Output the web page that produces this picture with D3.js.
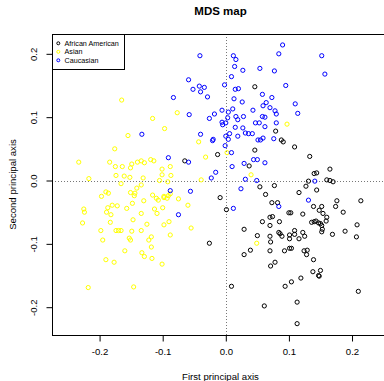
<!DOCTYPE html>
<html><head><meta charset="utf-8">
<script src="https://cdn.jsdelivr.net/npm/d3@7"></script>
<style>body{margin:0;background:#fff}svg{display:block}text{font-family:"Liberation Sans",Arial,sans-serif}</style>
</head><body><div id="chart"></div>
<script>
const groups = ["African American", "Asian", "Caucasian"];
const colors = ["#000000", "#ffff00", "#0000ff"];
const xTicks = [-0.2, -0.1, 0.0, 0.1, 0.2];
const yTicks = [-0.2, -0.1, 0.0, 0.1, 0.2];
const xTickLabels = ["-0.2", "-0.1", "0.0", "0.1", "0.2"];
const yTickLabels = ["-0.2", "-0.1", "0.0", "0.1", "0.2"];

const africanAmerican = [
[0.046,0.148],[0.079,0.078],[0.088,0.064],[0.091,0.061],[0.109,0.053],[0.046,0.048],[-0.013,0.041],[-0.065,0.031],
[0.037,0.023],[0.133,0.038],[0.165,0.018],[0.140,0.011],[0.144,0.012],[0.131,-0.001],[0.160,0.001],[0.165,0.000],
[0.170,-0.002],[0.077,-0.008],[0.054,-0.010],[0.063,-0.022],[0.127,-0.009],[0.144,-0.015],[0.116,-0.019],[-0.009,-0.027],
[0.001,-0.046],[0.073,-0.035],[0.082,-0.035],[0.176,-0.032],[0.214,-0.032],[0.139,-0.041],[0.152,-0.041],[0.174,-0.041],
[0.148,-0.047],[0.154,-0.052],[0.186,-0.050],[0.100,-0.051],[0.103,-0.051],[0.122,-0.053],[0.070,-0.058],[0.074,-0.057],
[0.058,-0.065],[0.085,-0.065],[0.160,-0.058],[0.159,-0.064],[0.136,-0.066],[0.140,-0.065],[0.143,-0.064],[0.147,-0.067],
[0.150,-0.068],[0.152,-0.071],[0.153,-0.077],[0.152,-0.081],[0.208,-0.070],[0.189,-0.080],[0.207,-0.089],[0.169,-0.085],
[0.070,-0.071],[0.029,-0.077],[0.050,-0.087],[0.070,-0.088],[0.071,-0.097],[0.084,-0.082],[0.086,-0.084],[0.089,-0.088],
[0.101,-0.086],[0.101,-0.092],[0.109,-0.079],[0.109,-0.085],[0.116,-0.092],[0.122,-0.082],[0.125,-0.088],[-0.026,-0.099],
[0.039,-0.110],[0.029,-0.117],[0.070,-0.111],[0.093,-0.111],[0.101,-0.107],[0.104,-0.107],[0.124,-0.111],[0.129,-0.110],
[0.128,-0.117],[0.139,-0.125],[0.078,-0.129],[0.071,-0.135],[0.138,-0.144],[0.150,-0.142],[0.147,-0.150],[0.148,-0.151],
[0.119,-0.154],[0.104,-0.160],[0.094,-0.167],[0.009,-0.167],[0.210,-0.175],[0.113,-0.192],[0.061,-0.198],[0.113,-0.226]
];
const asian = [
[-0.165,0.127],[-0.116,0.098],[-0.077,0.107],[-0.097,0.082],[-0.155,0.071],[-0.176,0.050],[-0.233,0.029],[-0.184,0.029],
[-0.175,0.022],[-0.164,0.022],[-0.149,0.026],[-0.151,0.020],[-0.140,0.029],[-0.134,0.031],[-0.129,0.028],[-0.119,0.033],
[-0.114,0.031],[-0.101,0.018],[-0.088,0.022],[-0.217,0.003],[-0.174,0.008],[-0.161,0.007],[-0.152,0.005],[-0.131,0.004],
[-0.105,0.000],[-0.101,0.009],[-0.087,0.008],[-0.092,-0.002],[-0.166,-0.005],[-0.134,-0.007],[-0.141,-0.012],[-0.151,-0.019],
[-0.144,-0.020],[-0.145,-0.024],[-0.190,-0.018],[-0.186,-0.020],[-0.197,-0.025],[-0.116,-0.023],[-0.110,-0.028],[-0.107,-0.031],
[-0.098,-0.027],[-0.130,-0.032],[-0.148,-0.036],[-0.180,-0.039],[-0.172,-0.040],[-0.187,-0.043],[-0.157,-0.044],[-0.113,-0.045],
[-0.100,-0.043],[-0.225,-0.045],[-0.224,-0.050],[-0.189,-0.050],[-0.182,-0.054],[-0.134,-0.052],[-0.109,-0.052],[-0.227,-0.067],
[-0.183,-0.066],[-0.147,-0.062],[-0.125,-0.069],[-0.098,-0.070],[-0.198,-0.079],[-0.174,-0.079],[-0.170,-0.079],[-0.166,-0.079],
[-0.149,-0.080],[-0.134,-0.079],[-0.195,-0.094],[-0.153,-0.091],[-0.151,-0.094],[-0.122,-0.094],[-0.118,-0.089],[-0.118,-0.105],
[-0.160,-0.111],[-0.133,-0.114],[-0.129,-0.120],[-0.117,-0.123],[-0.190,-0.125],[-0.177,-0.129],[-0.101,-0.132],[-0.218,-0.169],
[-0.146,-0.168],[-0.043,0.061],[-0.032,0.037],[0.002,0.044],[-0.039,0.001],[0.040,0.009],[0.097,0.089],[-0.088,-0.021],
[-0.091,-0.024],[-0.093,-0.028],[-0.098,-0.025],[-0.075,-0.029],[-0.060,-0.039],[-0.090,-0.065],[-0.088,-0.086],[-0.055,-0.075],
[0.049,-0.099]
];
const caucasian = [
[0.090,0.214],[0.084,0.200],[0.152,0.197],[0.157,0.168],[-0.041,0.197],[0.012,0.197],[0.016,0.191],[0.014,0.180],
[0.027,0.174],[0.054,0.177],[0.077,0.173],[0.009,0.164],[-0.059,0.159],[-0.052,0.144],[-0.042,0.149],[-0.034,0.147],
[-0.040,0.140],[-0.002,0.151],[0.015,0.144],[0.020,0.145],[0.095,0.150],[-0.029,0.132],[-0.083,0.131],[0.013,0.129],
[0.026,0.124],[0.058,0.136],[0.073,0.131],[0.064,0.123],[0.059,0.118],[0.070,0.115],[0.078,0.110],[0.080,0.105],
[0.110,0.121],[0.114,0.106],[0.011,0.113],[0.004,0.108],[-0.006,0.111],[-0.018,0.105],[-0.026,0.098],[-0.058,0.104],
[0.003,0.099],[0.016,0.101],[0.028,0.101],[0.043,0.111],[0.058,0.101],[0.062,0.100],[0.047,0.091],[0.053,0.091],
[0.062,0.085],[0.080,0.091],[-0.006,0.092],[-0.005,0.088],[0.000,0.091],[0.015,0.084],[0.027,0.083],[0.031,0.075],
[0.036,0.074],[0.042,0.074],[0.019,0.070],[0.006,0.074],[0.000,0.070],[0.004,0.065],[-0.001,0.055],[-0.040,0.073],
[-0.020,0.065],[-0.021,0.063],[0.051,0.064],[0.055,0.064],[0.059,0.067],[0.076,0.066],[0.009,0.044],[-0.091,0.036],
[-0.059,0.029],[0.010,0.022],[0.029,0.027],[0.044,0.033],[0.050,0.033],[0.062,0.028],[-0.016,0.013],[-0.023,0.004],
[0.031,0.002],[0.049,0.000],[0.141,-0.001],[-0.133,0.073],[-0.088,-0.016],[-0.056,-0.017],[-0.075,-0.054],[0.024,-0.013],
[0.012,-0.044],[0.131,-0.031],[0.084,-0.041],[0.019,0.096]
];
const series = [africanAmerican, asian, caucasian];

(function () {
const W = 384, H = 381;
const pL = 52, pR = 389, pT = 34, pB = 335;
const x = d3.scaleLinear().domain([-0.2754, 0.2586]).range([pL, pR]);
const y = d3.scaleLinear().domain([-0.2439, 0.2313]).range([pB, pT]);
const FONT = "Liberation Sans, Arial, sans-serif";

const svg = d3.select("#chart").append("svg").attr("width", W).attr("height", H);

// reference lines
svg.append("line").attr("x1", Math.round(x(0)) + 0.5).attr("x2", Math.round(x(0)) + 0.5).attr("y1", pT).attr("y2", pB)
  .attr("stroke", "#777").attr("stroke-width", 1).attr("stroke-dasharray", "1,2");
svg.append("line").attr("x1", pL).attr("x2", pR).attr("y1", Math.round(y(0)) + 0.5).attr("y2", Math.round(y(0)) + 0.5)
  .attr("stroke", "#777").attr("stroke-width", 1).attr("stroke-dasharray", "1,2");

// points
series.forEach((s, i) => {
  svg.append("g").selectAll("circle").data(s).join("circle")
    .attr("cx", d => x(d[0])).attr("cy", d => y(d[1])).attr("r", 2.1)
    .attr("fill", "none").attr("stroke", colors[i]).attr("stroke-width", 1);
});

// x axis
const xAxis = d3.axisBottom(x).tickValues(xTicks).tickSize(6).tickPadding(7)
  .tickFormat((d, i) => xTickLabels[i]);
const gx = svg.append("g").attr("transform", `translate(0,${pB + 0.5})`).call(xAxis);
gx.select(".domain").attr("d", `M${x(-0.2)},0H${x(0.2)}`).attr("stroke", "#000");
gx.selectAll("text").attr("font-size", 9.6).attr("fill", "#000").attr("font-family", FONT);

// y axis
const yAxis = d3.axisLeft(y).tickValues(yTicks).tickSize(6).tickPadding(4)
  .tickFormat((d, i) => yTickLabels[i]);
const gy = svg.append("g").attr("transform", `translate(${pL + 0.5},0)`).call(yAxis);
gy.select(".domain").attr("d", `M0,${y(-0.2)}V${y(0.2)}`).attr("stroke", "#000");
gy.selectAll(".tick text")
  .attr("font-size", 9.6).attr("fill", "#000").attr("font-family", FONT)
  .attr("text-anchor", "middle").attr("x", 0).attr("y", 0).attr("dy", 0)
  .attr("transform", "translate(-16,0) rotate(-90)");

// box
svg.append("rect").attr("x", pL + 0.5).attr("y", pT + 0.5).attr("width", pR - pL).attr("height", pB - pT)
  .attr("fill", "none").attr("stroke", "#000").attr("stroke-width", 1);

// title & labels
svg.append("text").attr("x", (pL + pR) / 2).attr("y", 15).attr("text-anchor", "middle")
  .attr("font-size", 11.5).attr("font-weight", "bold").attr("font-family", FONT).text("MDS map");
svg.append("text").attr("x", (pL + pR) / 2).attr("y", 380).attr("text-anchor", "middle")
  .attr("font-size", 9.6).attr("font-family", FONT).text("First principal axis");
svg.append("text").attr("transform", `translate(15.5,${(pT + pB) / 2}) rotate(-90)`)
  .attr("text-anchor", "middle").attr("font-size", 9.6).attr("font-family", FONT).text("Second principal axis");

// legend
const lg = svg.append("g");
lg.append("rect").attr("x", pL + 0.5).attr("y", pT + 0.5).attr("width", 72).attr("height", 35)
  .attr("fill", "#fff").attr("stroke", "#000").attr("stroke-width", 1);
groups.forEach((g, i) => {
  const cy = 43.3 + i * 8.5;
  lg.append("circle").attr("cx", 58.3).attr("cy", cy).attr("r", 1.5)
    .attr("fill", "none").attr("stroke", colors[i]).attr("stroke-width", 1);
  lg.append("text").attr("x", 64.5).attr("y", cy + 2.6).attr("font-size", 7.2).attr("fill", "#000")
    .attr("font-family", FONT).text(g);
});
})();
</script></body></html>
